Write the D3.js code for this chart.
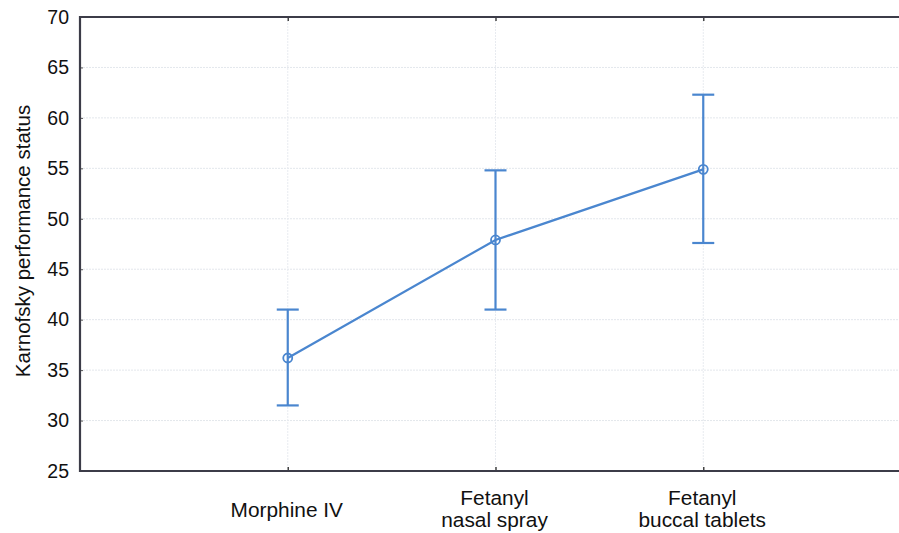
<!DOCTYPE html>
<html><head><meta charset="utf-8">
<script src="https://cdn.jsdelivr.net/npm/d3@7"></script>
<style>body{margin:0;background:#fff}svg{display:block}text{font-family:"Liberation Sans",Arial,sans-serif;fill:#111}</style>
</head><body><div id="chart"></div>
<script>
const categories = ["Morphine IV", "Fetanyl\nnasal spray", "Fetanyl\nbuccal tablets"];
const means = [36.2, 47.9, 54.9];
const upper = [41.0, 54.8, 62.3];
const lower = [31.5, 41.0, 47.6];
const yTicks = [25, 30, 35, 40, 45, 50, 55, 60, 65, 70];
const yTitle = "Karnofsky performance status";

const W = 899, H = 533;
const mLeft = 80, mTop = 17, mBottom = 471, mRight = 911;
const color = "#4a86cf";

const svg = d3.select("#chart").append("svg").attr("width", W).attr("height", H);

const x = d3.scalePoint().domain(categories).range([mLeft, mRight]).padding(1);
const y = d3.scaleLinear().domain([25, 70]).range([mBottom, mTop]);

// gridlines
svg.append("g").selectAll("line").data(yTicks.slice(1, -1)).join("line")
  .attr("x1", mLeft).attr("x2", W).attr("y1", d => y(d)).attr("y2", d => y(d))
  .attr("stroke", "#e3e7ec").attr("stroke-width", 1).attr("stroke-dasharray", "2,1");
svg.append("g").selectAll("line").data(categories).join("line")
  .attr("x1", d => x(d)).attr("x2", d => x(d)).attr("y1", mTop).attr("y2", mBottom)
  .attr("stroke", "#e8ebf0").attr("stroke-width", 1).attr("stroke-dasharray", "2,1");

// y axis
const yAxis = svg.append("g").attr("transform", `translate(${mLeft},0)`)
  .call(d3.axisLeft(y).tickValues(yTicks).tickSize(-3).tickPadding(11).tickFormat(d3.format("d")));
yAxis.select(".domain").remove();
yAxis.selectAll("line").attr("stroke", "#555");
yAxis.selectAll("text").attr("font-size", 19.5).style("fill", "#111");

// x axis
const xAxis = svg.append("g").attr("transform", `translate(0,${mBottom})`)
  .call(d3.axisBottom(x).tickSize(-4).tickFormat(""));
xAxis.select(".domain").remove();
xAxis.selectAll("line").attr("stroke", "#444").attr("stroke-width", 1.5);

// top axis ticks
const xTop = svg.append("g").attr("transform", `translate(0,${mTop})`)
  .call(d3.axisTop(x).tickSize(-4).tickFormat(""));
xTop.select(".domain").remove();
xTop.selectAll("line").attr("stroke", "#444").attr("stroke-width", 1.5);

// frame
svg.append("path")
  .attr("d", `M${W},${mTop}H${mLeft}V${mBottom}H${W}`)
  .attr("fill", "none").attr("stroke", "#3c3c48").attr("stroke-width", 2.2);

// x labels
categories.forEach(c => {
  const lines = c.split("\n");
  const baseY = lines.length === 1 ? 517 : 505;
  const t = svg.append("text").attr("text-anchor", "middle").attr("font-size", 19.5)
    .attr("transform", `translate(${x(c) - 1},${baseY}) scale(1.07,1)`);
  lines.forEach((l, i) => {
    t.append("tspan").attr("x", 0).attr("y", i * 22.5).text(l);
  });
});

// y title
svg.append("text").attr("transform", `translate(30,241) rotate(-90)`)
  .attr("text-anchor", "middle").attr("font-size", 20.5).text(yTitle);

// data
const data = categories.map((c, i) => ({c, m: means[i], u: upper[i], l: lower[i]}));
const g = svg.append("g");
g.append("path").datum(data)
  .attr("d", d3.line().x(d => x(d.c)).y(d => y(d.m)))
  .attr("fill", "none").attr("stroke", color).attr("stroke-width", 2.2);
g.selectAll(".eb").data(data).join("line")
  .attr("x1", d => x(d.c)).attr("x2", d => x(d.c)).attr("y1", d => y(d.u)).attr("y2", d => y(d.l))
  .attr("stroke", color).attr("stroke-width", 2.2);
g.selectAll(".cu").data(data).join("line")
  .attr("x1", d => x(d.c) - 11).attr("x2", d => x(d.c) + 11).attr("y1", d => y(d.u)).attr("y2", d => y(d.u))
  .attr("stroke", color).attr("stroke-width", 2.2);
g.selectAll(".cl").data(data).join("line")
  .attr("x1", d => x(d.c) - 11).attr("x2", d => x(d.c) + 11).attr("y1", d => y(d.l)).attr("y2", d => y(d.l))
  .attr("stroke", color).attr("stroke-width", 2.2);
g.selectAll("circle").data(data).join("circle")
  .attr("cx", d => x(d.c)).attr("cy", d => y(d.m)).attr("r", 4.5)
  .attr("fill", "none").attr("stroke", color).attr("stroke-width", 1.8);
</script></body></html>
